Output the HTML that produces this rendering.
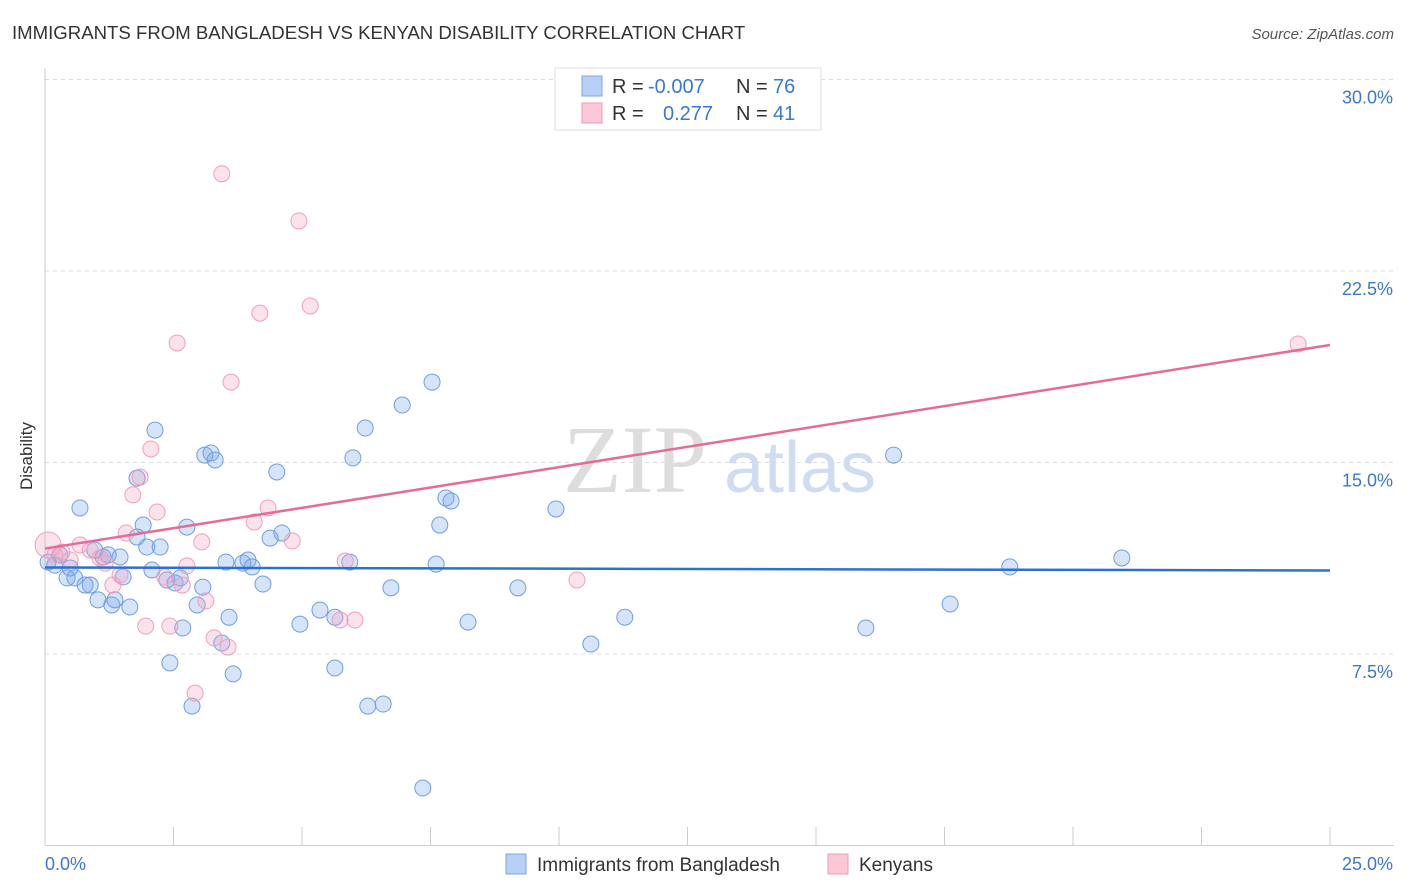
<!DOCTYPE html>
<html><head><meta charset="utf-8"><style>
body{margin:0;background:#fff;font-family:"Liberation Sans",sans-serif;}
svg{display:block}
</style></head><body>
<svg id="chart" width="1406" height="892">
<text x="12" y="39" font-size="18.6" fill="#333">IMMIGRANTS FROM BANGLADESH VS KENYAN DISABILITY CORRELATION CHART</text>
<text x="1394" y="39" font-size="15" fill="#555" font-style="italic" text-anchor="end">Source: ZipAtlas.com</text>
<text x="32" y="456" font-size="17" fill="#333" transform="rotate(-90 32 456)" text-anchor="middle">Disability</text>
<g id="grid"></g>
<text x="635" y="492" font-size="96" fill="#ddd" font-family="Liberation Serif,serif" text-anchor="middle">ZIP</text>
<text x="800" y="492" font-size="72" fill="#cfdcf2" text-anchor="middle">atlas</text>
<g id="pts"></g>
<g id="lines"></g>
<g>
<rect x="555" y="68" width="266" height="62" fill="#fff" stroke="#ddd"/>
<rect x="582" y="76" width="20" height="20" fill="#b8d0f5" stroke="#7aa6e6"/>
<rect x="582" y="103" width="20" height="20" fill="#fcc8d8" stroke="#f09ab4"/>
<text x="612" y="93" font-size="20" fill="#333">R =</text>
<text x="648" y="93" font-size="20" fill="#3a78d4">-0.007</text>
<text x="736" y="93" font-size="20" fill="#333">N =</text>
<text x="773" y="93" font-size="20" fill="#3a78d4">76</text>
<text x="612" y="120" font-size="20" fill="#333">R =</text>
<text x="663" y="120" font-size="20" fill="#3a78d4">0.277</text>
<text x="736" y="120" font-size="20" fill="#333">N =</text>
<text x="773" y="120" font-size="20" fill="#3a78d4">41</text>
</g>
<g>
<rect x="506" y="854" width="20" height="20" fill="#b8d0f5" stroke="#7aa6e6"/>
<text x="537" y="871" font-size="19" fill="#333">Immigrants from Bangladesh</text>
<rect x="828" y="854" width="20" height="20" fill="#fcc8d8" stroke="#f09ab4"/>
<text x="859" y="871" font-size="19" fill="#333">Kenyans</text>
</g>
</svg>
<script>
const yTicks=[7.5,15,22.5,30];
const yTickLabels=["7.5%","15.0%","22.5%","30.0%"];
const xTicks=[0,2.5,5,7.5,10,12.5,15,17.5,20,22.5,25];
const xEndLabels=["0.0%","25.0%"];
const blueX=[0.06,0.19,0.29,0.43,0.58,0.49,0.68,0.78,0.88,0.97,1.03,1.13,1.23,1.30,1.36,1.46,1.52,1.65,1.79,1.91,1.79,1.98,2.08,2.14,2.24,2.37,2.43,2.53,2.63,2.68,2.76,2.86,2.96,3.07,3.11,3.23,3.31,3.44,3.58,3.52,3.66,3.85,3.95,4.03,4.24,4.38,4.51,4.61,4.96,5.35,5.64,5.64,5.93,5.99,6.23,6.28,6.58,6.73,6.95,7.35,7.53,7.61,7.68,7.80,7.90,8.23,9.20,9.94,10.62,11.28,15.97,16.51,17.61,18.77,20.95];
const blueY=[11.10,10.98,11.38,10.48,10.48,10.87,13.22,10.20,10.20,11.57,9.62,11.30,11.38,9.42,9.62,11.30,10.52,9.34,14.39,12.55,12.08,11.69,10.79,16.27,11.69,10.40,7.15,10.28,10.48,8.52,12.47,5.46,9.42,10.12,15.29,15.37,15.10,7.93,8.94,11.10,6.72,11.06,11.18,10.91,10.24,12.04,14.63,12.24,8.67,9.22,8.94,6.95,11.10,15.18,16.35,5.46,5.54,10.09,17.25,2.25,18.15,11.02,12.55,13.61,13.49,8.75,10.09,13.18,7.89,8.94,8.52,15.29,9.46,10.91,11.26];
const pinkX=[0.06,0.19,0.33,0.49,0.68,0.88,1.07,1.17,1.32,1.46,1.58,1.71,1.85,1.96,2.06,2.18,2.33,2.43,2.57,2.67,2.76,2.92,3.05,3.13,3.29,3.44,3.56,3.62,4.07,4.18,4.34,4.81,4.94,5.16,5.74,5.84,6.03,10.35,24.38];
const pinkY=[11.77,11.38,11.49,11.18,11.77,11.57,11.26,11.06,10.20,10.60,12.24,13.73,14.43,8.59,15.53,13.06,10.52,8.59,19.68,10.20,10.95,5.97,11.89,9.58,8.13,26.31,7.77,18.15,12.67,20.85,13.22,11.93,24.46,21.13,8.83,11.14,8.83,10.40,19.64];
const blueLine=[10.89,10.77];
const pinkLine=[11.63,19.60];
const NS="http://www.w3.org/2000/svg";
const sx=v=>45+v/25*1285;
const sy=v=>845.5-v/7.5*191.5;
function mk(t,a,p){const e=document.createElementNS(NS,t);for(const k in a)e.setAttribute(k,a[k]);p.appendChild(e);return e;}
const grid=document.getElementById('grid');
yTicks.forEach((v,i)=>{
 const l=mk('line',{x1:45,x2:1394,y1:sy(v),y2:sy(v),stroke:'#ddd','stroke-dasharray':'4,4'},grid);
 
 
 const t=mk('text',{x:1393,y:sy(v)+24,'font-size':18,fill:'#3a78d4','text-anchor':'end'},grid);
 t.textContent=yTickLabels[i];
 
 
});
const ax=mk('line',{x1:45,x2:1394,y1:845.5,y2:845.5,stroke:'#ccc'},grid);


const ay=mk('line',{x1:45,x2:45,y1:68,y2:845.5,stroke:'#ccc'},grid);


xTicks.forEach(v=>{
 const l=mk('line',{x1:sx(v),x2:sx(v),y1:827,y2:845.5,stroke:'#ccc'},grid);
 
 
});
[[0,'start',45],[25,'end',1393]].forEach((d,i)=>{
 const t=mk('text',{x:d[2],y:870,'font-size':18,fill:'#3a78d4','text-anchor':d[1]},grid);
 t.textContent=xEndLabels[i];
 
 
});
const pts=document.getElementById('pts');
blueX.forEach((x,i)=>{
 const c=mk('circle',{cx:sx(x),cy:sy(blueY[i]),r:8,fill:'rgba(120,165,235,0.3)',stroke:'#6f9fe2','stroke-width':1},pts);
 
 
});
pinkX.forEach((x,i)=>{
 const c=mk('circle',{cx:sx(x),cy:sy(pinkY[i]),r:i===0?13:8,fill:'rgba(245,160,190,0.3)',stroke:'#f0a0bb','stroke-width':1},pts);
 
 
});
const lines=document.getElementById('lines');
const bl=mk('line',{x1:sx(0),x2:sx(25),y1:sy(blueLine[0]),y2:sy(blueLine[1]),stroke:'#2f6fd0','stroke-width':2.5},lines);


const pl=mk('line',{x1:sx(0),x2:sx(25),y1:sy(pinkLine[0]),y2:sy(pinkLine[1]),stroke:'#e86a96','stroke-width':2.5},lines);


</script>
</body></html>
